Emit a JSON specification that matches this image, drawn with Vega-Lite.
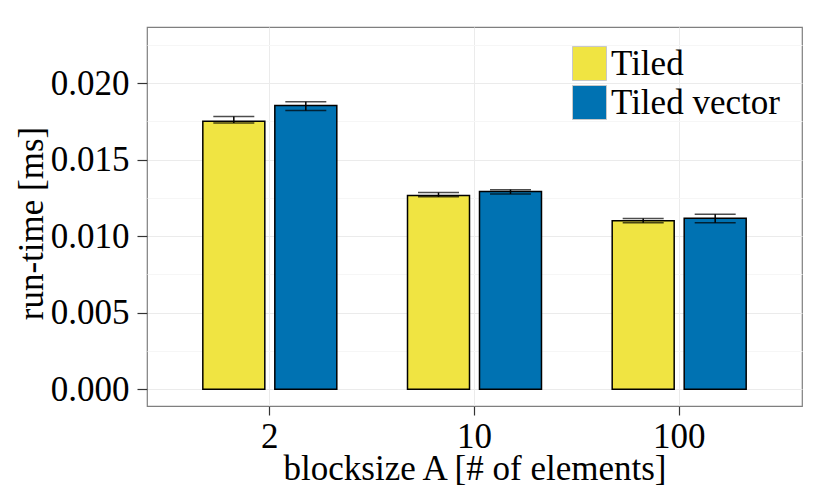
{
  "$schema": "https://vega.github.io/schema/vega-lite/v6.json",
  "autosize": {"type": "none"},
  "padding": {"left": 147, "top": 27, "right": 28, "bottom": 92},
  "width": 655,
  "height": 379,
  "background": "white",
  "config": {
    "font": "Liberation Serif",
    "view": {"stroke": "#7F7F7F", "strokeWidth": 1.2},
    "axis": {
      "labelFont": "Liberation Serif",
      "titleFont": "Liberation Serif",
      "labelFontSize": 35,
      "titleFontSize": 35,
      "labelColor": "black",
      "titleColor": "black",
      "titleFontWeight": "normal",
      "domain": false,
      "tickColor": "#333333",
      "tickWidth": 1.2,
      "gridColor": "#EBEBEB",
      "gridWidth": 1
    }
  },
  "data": {
    "values": [
      {"blocksize": "2", "variant": "Tiled", "time": 0.01751, "lo": 0.01739, "hi": 0.01782},
      {"blocksize": "2", "variant": "Tiled vector", "time": 0.01854, "lo": 0.01821, "hi": 0.01878},
      {"blocksize": "10", "variant": "Tiled", "time": 0.01265, "lo": 0.01257, "hi": 0.01285},
      {"blocksize": "10", "variant": "Tiled vector", "time": 0.01291, "lo": 0.01276, "hi": 0.01304},
      {"blocksize": "100", "variant": "Tiled", "time": 0.01101, "lo": 0.01088, "hi": 0.01115},
      {"blocksize": "100", "variant": "Tiled vector", "time": 0.01117, "lo": 0.01088, "hi": 0.01143}
    ]
  },
  "encoding": {
    "x": {
      "field": "blocksize",
      "type": "nominal",
      "sort": ["2", "10", "100"],
      "scale": {"paddingInner": 0, "paddingOuter": 0.1},
      "title": "blocksize A [# of elements]",
      "axis": {
        "labelAngle": 0,
        "tickSize": 9,
        "labelBaseline": "alphabetic",
        "labelPadding": 32,
        "titleBaseline": "alphabetic",
        "titleY": 73,
        "grid": true
      }
    },
    "xOffset": {
      "field": "variant",
      "type": "nominal",
      "scale": {"paddingInner": 0.139, "paddingOuter": 0.491}
    }
  },
  "layer": [
    {
      "mark": {"type": "bar", "stroke": "black", "strokeWidth": 1.5},
      "encoding": {
        "y": {
          "field": "time",
          "type": "quantitative",
          "scale": {"domain": [-0.00109, 0.02366], "nice": false, "zero": false},
          "title": "run-time [ms]",
          "axis": {
            "values": [0, 0.0025, 0.005, 0.0075, 0.01, 0.0125, 0.015, 0.0175, 0.02, 0.0225],
            "labelExpr": "round(datum.value * 10000) % 50 == 0 ? format(datum.value, '.3f') : ''",
            "tickSize": 10,
            "tickOpacity": {"condition": {"test": "round(datum.value * 10000) % 50 != 0", "value": 0}, "value": 1},
            "gridColor": {"condition": {"test": "round(datum.value * 10000) % 50 != 0", "value": "#F6F6F6"}, "value": "#EBEBEB"},
            "labelPadding": 8,
            "titleX": -105,
            "titleY": 196,
            "titleBaseline": "alphabetic",
            "grid": true
          }
        },
        "y2": {"datum": 0},
        "color": {
          "field": "variant",
          "type": "nominal",
          "scale": {"domain": ["Tiled", "Tiled vector"], "range": ["#F0E442", "#0072B2"]},
          "legend": {
            "title": null,
            "orient": "none",
            "legendX": 425,
            "legendY": 19,
            "symbolType": "square",
            "symbolSize": 1156,
            "symbolStrokeColor": "#C8C8C8",
            "symbolStrokeWidth": 1,
            "labelFont": "Liberation Serif",
            "labelFontSize": 35,
            "labelColor": "black",
            "labelLimit": 400,
            "labelOffset": 4,
            "rowPadding": 0,
            "padding": 0
          }
        }
      }
    },
    {
      "mark": {"type": "rule", "color": "black", "strokeWidth": 1.5},
      "encoding": {
        "y": {"field": "lo", "type": "quantitative"},
        "y2": {"field": "hi"}
      }
    },
    {
      "mark": {"type": "tick", "color": "black", "thickness": 1.5, "size": 41},
      "encoding": {
        "y": {"field": "lo", "type": "quantitative"}
      }
    },
    {
      "mark": {"type": "tick", "color": "black", "thickness": 1.5, "size": 41},
      "encoding": {
        "y": {"field": "hi", "type": "quantitative"}
      }
    }
  ]
}
